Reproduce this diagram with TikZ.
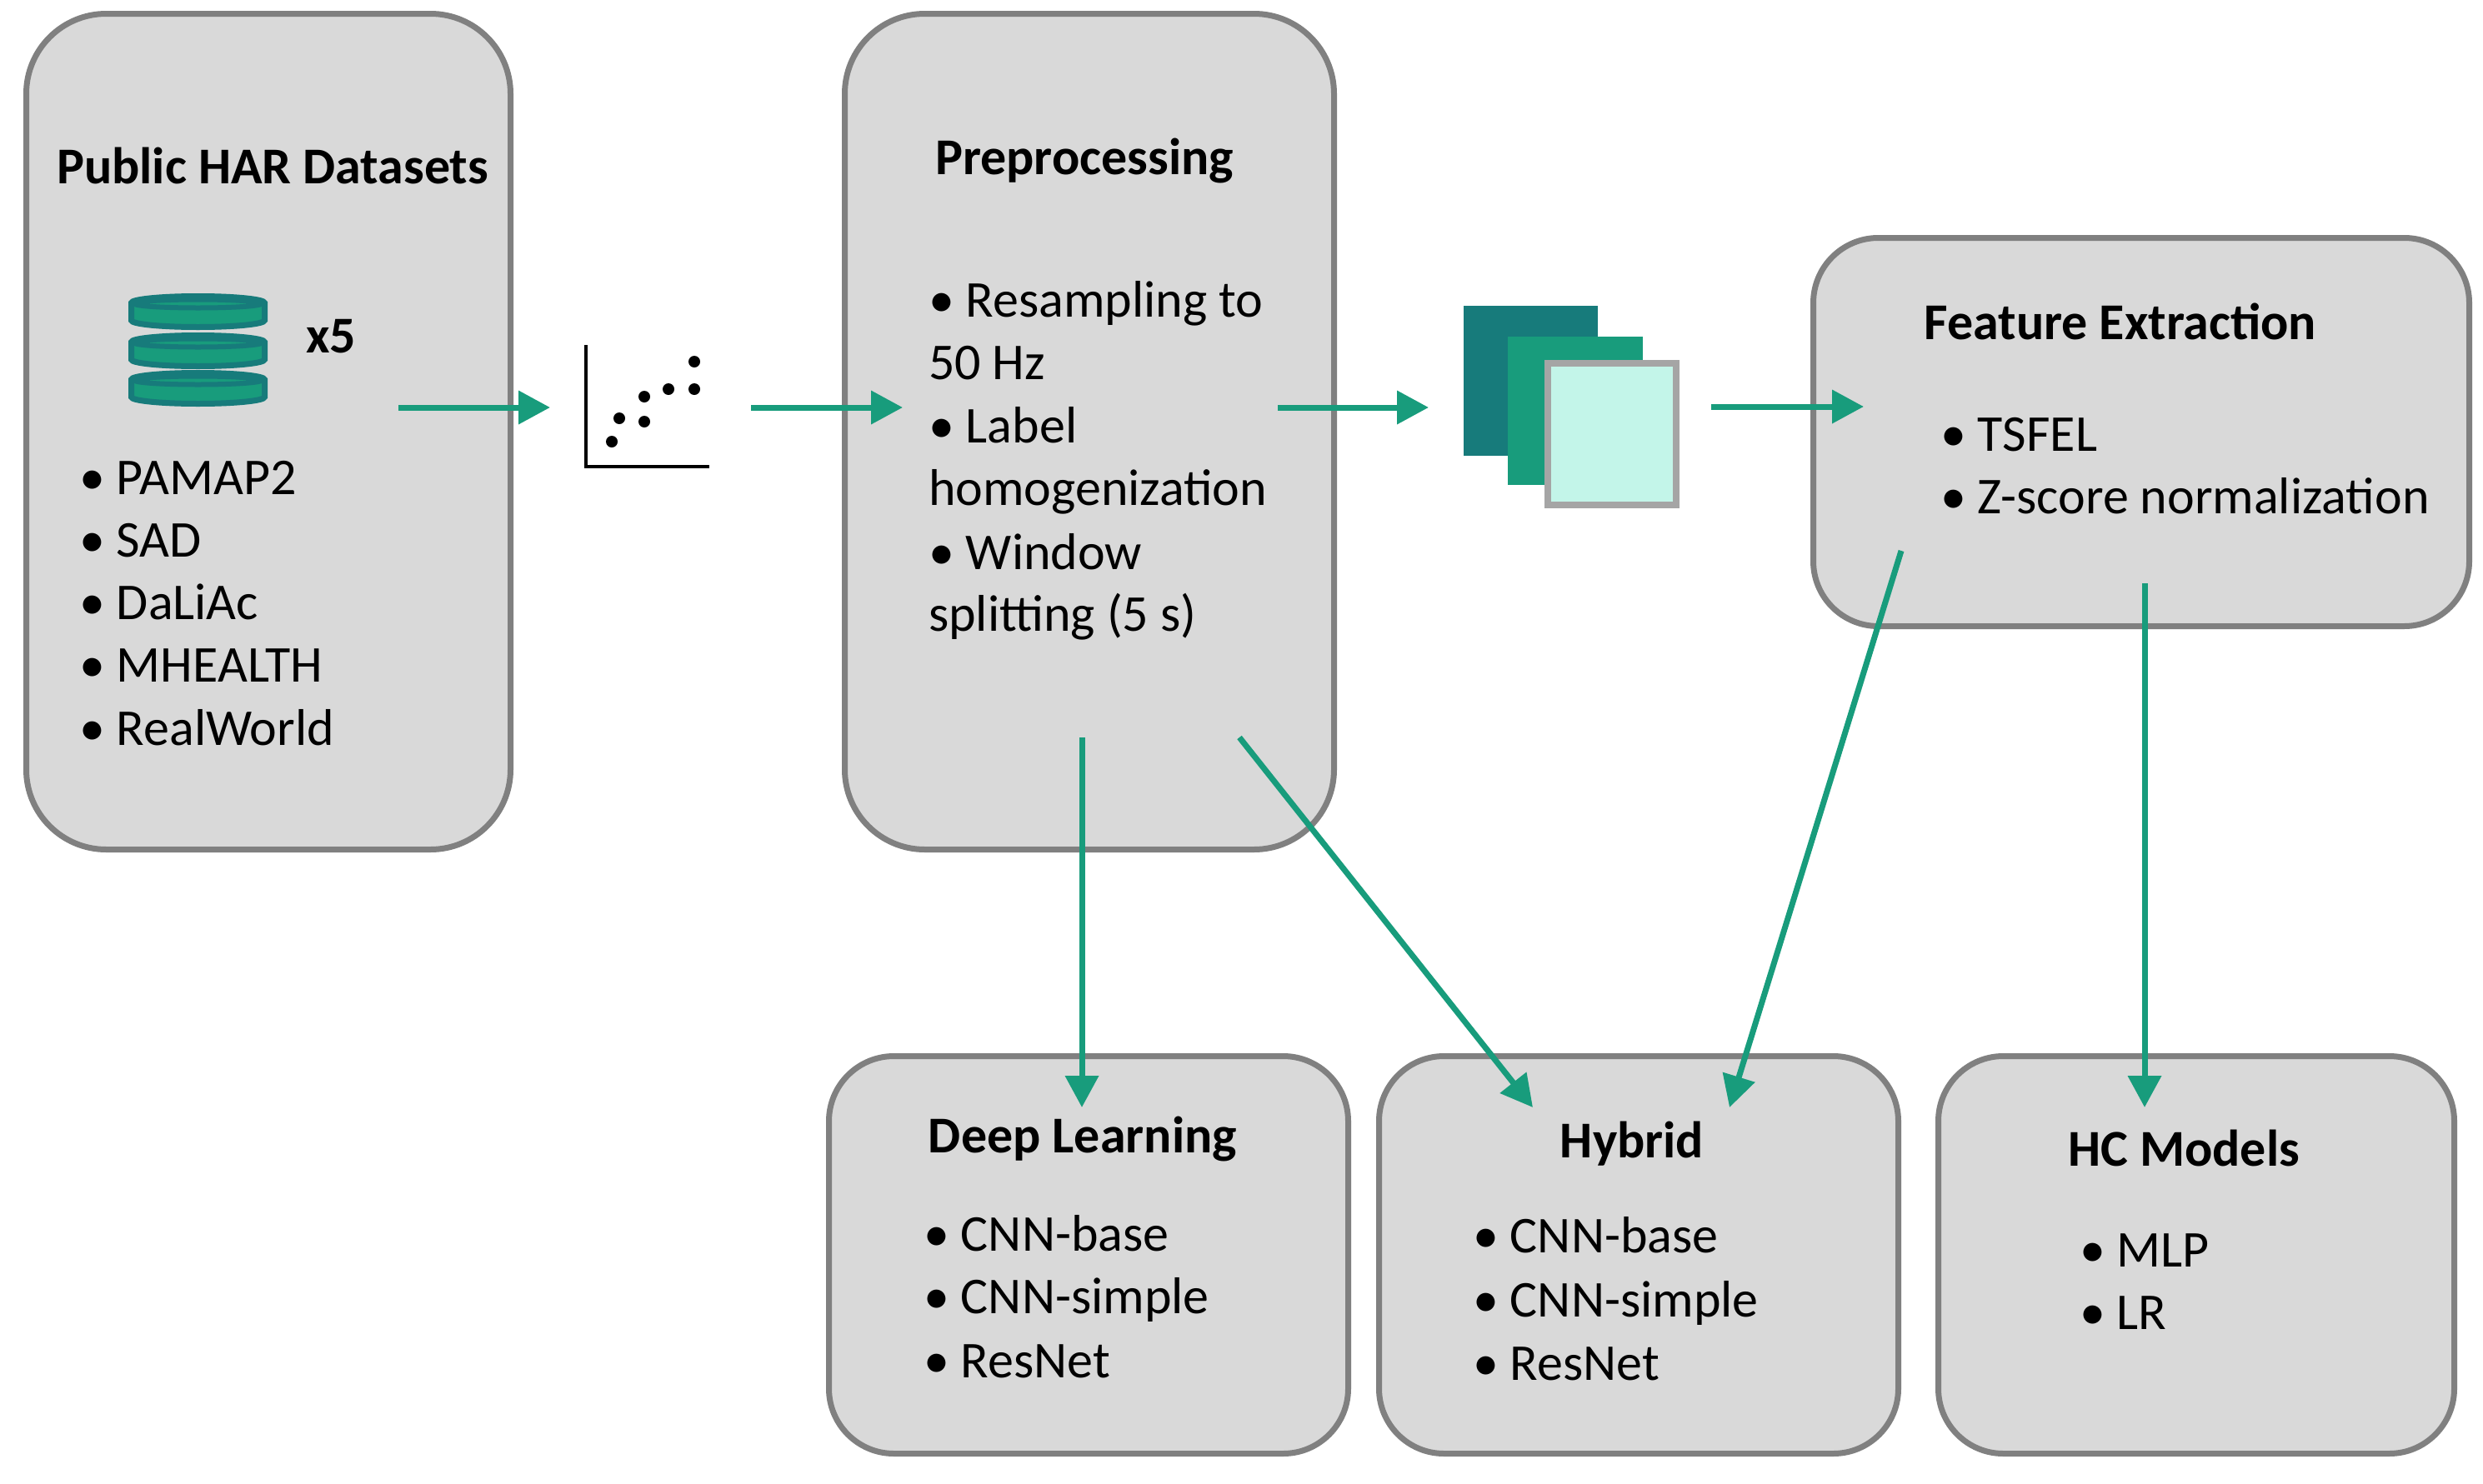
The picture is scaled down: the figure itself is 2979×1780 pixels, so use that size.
\documentclass[tikz,border=0pt]{standalone}
\usepackage{fontspec}
\setmainfont{Carlito}
\usetikzlibrary{arrows.meta}
\definecolor{boxfill}{HTML}{D9D9D9}
\definecolor{boxline}{HTML}{808080}
\definecolor{tealA}{HTML}{189C7C}
\definecolor{tealD}{HTML}{177B7B}
\definecolor{mint}{HTML}{C3F5E9}
\definecolor{sqline}{HTML}{A5A5A5}
\begin{document}
\begin{tikzpicture}[x=1pt,y=1pt,
  every node/.style={inner sep=0pt,outer sep=0pt},
  font=\fontsize{62}{75.5}\selectfont,
  box/.style={draw=boxline,fill=boxfill,line width=7pt,rectangle},
  boxtitle/.style={font=\fontsize{62}{75.5}\selectfont\bfseries,anchor=base},
  item/.style={anchor=base west},
  arr/.style={draw=tealA,line width=7pt,-{Triangle[length=38pt,width=39pt]}}]
\useasboundingbox (0,0) rectangle (2979,-1780);
\fill[white] (0,0) rectangle (2979,-1780);

% boxes
\node[box,minimum width=581pt,minimum height=1003pt,rounded corners=96pt] (har) at (322,-518) {};
\node[box,minimum width=587pt,minimum height=1003pt,rounded corners=96pt] (pre) at (1307,-518) {};
\node[box,minimum width=787pt,minimum height=466pt,rounded corners=78pt] (fe) at (2569,-518.5) {};
\node[box,minimum width=623pt,minimum height=477pt,rounded corners=78pt] (dl) at (1306,-1506) {};
\node[box,minimum width=623pt,minimum height=477pt,rounded corners=78pt] (hy) at (1966,-1506) {};
\node[box,minimum width=619pt,minimum height=477pt,rounded corners=78pt] (hc) at (2635,-1506) {};

% box 1 text
\node[boxtitle] (harT) at (327,-220) {Public HAR Datasets};
\node[boxtitle,anchor=base west] (x5) at (367,-423) {x5};
\node[item] (h1) at (95,-593) {• PAMAP2};
\node[item] (h2) at (95,-668) {• SAD};
\node[item] (h3) at (95,-743) {• DaLiAc};
\node[item] (h4) at (95,-818) {• MHEALTH};
\node[item] (h5) at (95,-894) {• RealWorld};

% database icon
\foreach \t/\b in {447.5/484.5, 402.5/439.5, 355.5/392.5} {
  \filldraw[fill=tealA,draw=tealD,line width=7pt]
    (157.5,-\t-8) -- (157.5,-\b+8)
    arc[start angle=180,end angle=360,x radius=80,y radius=8]
    -- (317.5,-\t-8)
    arc[start angle=0,end angle=180,x radius=80,y radius=8] -- cycle;
  \draw[tealD,line width=6pt] (237.5,-\t-9) ellipse[x radius=76,y radius=5];
}

% scatter icon
\draw[line width=4pt] (703,-414) -- (703,-560) -- (851,-560);
\foreach \px/\py in {734/530,743/502,773/476,773/506,802/467,833/467,833/434}
  \fill (\px,-\py) circle[radius=7];

% preprocessing text
\node[boxtitle] (preT) at (1301,-209) {Preprocessing};
\node[item] (p1) at (1114,-380) {• Resampling to};
\node[item] (p2) at (1114,-455) {50 Hz};
\node[item] (p3) at (1114,-531) {• Label};
\node[item] (p4) at (1114,-606) {homogenization};
\node[item] (p5) at (1114,-683) {• Window};
\node[item] (p6) at (1114,-757) {splitting (5 s)};

% stacked squares
\fill[tealD] (1756,-367) rectangle (1917,-547);
\fill[tealA] (1809,-404) rectangle (1971,-582);
\filldraw[fill=mint,draw=sqline,line width=8pt] (1857,-436) rectangle (2011,-606);

% feature extraction text
\node[boxtitle] (feT) at (2544,-407) {Feature Extraction};
\node[item] (f1) at (2328,-541) {• TSFEL};
\node[item] (f2) at (2328,-616) {• Z-score normalization};

% bottom boxes text
\node[boxtitle] (dlT) at (1299,-1383) {Deep Learning};
\node[item] (d1) at (1108,-1501) {• CNN-base};
\node[item] (d2) at (1108,-1576) {• CNN-simple};
\node[item] (d3) at (1108,-1653) {• ResNet};

\node[boxtitle] (hyT) at (1958,-1389) {Hybrid};
\node[item] (y1) at (1767,-1503) {• CNN-base};
\node[item] (y2) at (1767,-1580) {• CNN-simple};
\node[item] (y3) at (1767,-1656) {• ResNet};

\node[boxtitle] (hcT) at (2620,-1399) {HC Models};
\node[item] (c1) at (2495,-1520) {• MLP};
\node[item] (c2) at (2495,-1595) {• LR};

% connector end points
\coordinate (a1s) at (478,-489);   \coordinate (a1e) at (660,-489);
\coordinate (a2s) at (901,-489);   \coordinate (a2e) at (1083,-489);
\coordinate (a3s) at (1533,-489);  \coordinate (a3e) at (1714,-489);
\coordinate (a4s) at (2053,-488);  \coordinate (a4e) at (2236,-488);
\coordinate (a5s) at (1298,-885);  \coordinate (a5e) at (1298,-1329);
\coordinate (a6s) at (1487,-885);  \coordinate (a6e) at (1839,-1329);
\coordinate (a7s) at (2281,-661);  \coordinate (a7e) at (2075,-1329);
\coordinate (a8s) at (2573,-700);  \coordinate (a8e) at (2573,-1329);

\draw[arr] (a1s) -- (a1e);
\draw[arr] (a2s) -- (a2e);
\draw[arr] (a3s) -- (a3e);
\draw[arr] (a4s) -- (a4e);
\draw[arr] (a5s) -- (a5e);
\draw[arr] (a6s) -- (a6e);
\draw[arr] (a7s) -- (a7e);
\draw[arr] (a8s) -- (a8e);
\end{tikzpicture}
\end{document}
